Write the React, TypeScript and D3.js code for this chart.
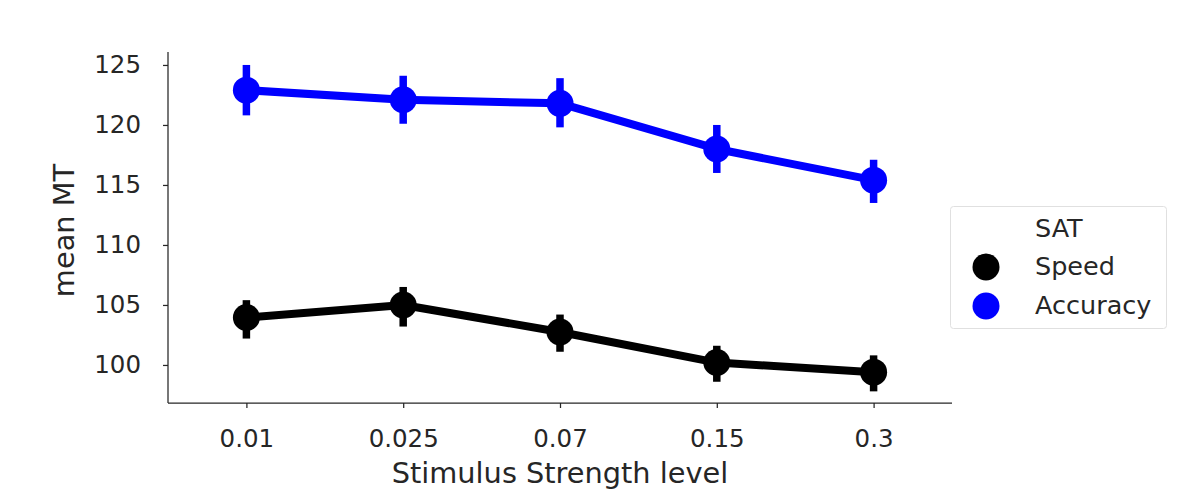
import * as d3 from "d3";
import { useEffect, useRef } from "react";

// stimulus strength levels (x categories)
const levels = ["0.01", "0.025", "0.07", "0.15", "0.3"];

// mean MT per level, with error bar bounds
const speedMean = [103.95, 105.0, 102.75, 100.2, 99.4];
const speedLow = [102.2, 103.2, 101.1, 98.6, 97.8];
const speedHigh = [105.4, 106.5, 104.2, 101.6, 100.8];

const accMean = [122.9, 122.1, 121.8, 118.0, 115.4];
const accLow = [120.8, 120.1, 119.8, 116.0, 113.5];
const accHigh = [125.0, 124.1, 123.9, 120.0, 117.1];

const yTicks = [100, 105, 110, 115, 120, 125];

const series = [
  { name: "Speed", color: "#000000", mean: speedMean, low: speedLow, high: speedHigh },
  { name: "Accuracy", color: "#0000ff", mean: accMean, low: accLow, high: accHigh },
];

export default function App() {
  const ref = useRef<SVGSVGElement>(null);

  useEffect(() => {
    const svg = d3.select(ref.current);
    svg.selectAll("*").remove();

    const left = 168, right = 952, top = 52, bottom = 403;
    const font = "DejaVu Sans, sans-serif";
    const textColor = "#262626";

    const x = d3.scalePoint<string>().domain(levels).range([left, right]).padding(0.5);
    const y = d3.scaleLinear().domain([96.83, 126.08]).range([bottom, top]);

    // axes
    const yAxis = svg.append("g")
      .attr("transform", `translate(${left},0)`)
      .call(d3.axisLeft(y).tickValues(yTicks).tickSize(5).tickPadding(22).tickFormat(d3.format("d")));
    const xAxis = svg.append("g")
      .attr("transform", `translate(0,${bottom})`)
      .call(d3.axisBottom(x).tickSize(5).tickPadding(22));
    for (const g of [yAxis, xAxis]) {
      g.select(".domain").attr("stroke", textColor).attr("stroke-width", 1.25);
      g.selectAll(".tick line").attr("stroke", textColor).attr("stroke-width", 1.25);
      g.selectAll(".tick text").attr("fill", textColor).style("font-family", font).style("font-size", "24.5px");
    }
    // plain spines without end caps
    yAxis.select(".domain").attr("d", `M0,${bottom}V${top}`);
    xAxis.select(".domain").attr("d", `M${left},0H${right}`);

    // axis labels
    svg.append("text")
      .attr("x", (left + right) / 2).attr("y", 483)
      .attr("text-anchor", "middle")
      .attr("fill", textColor)
      .style("font-family", font).style("font-size", "28.8px")
      .text("Stimulus Strength level");
    svg.append("text")
      .attr("transform", `translate(74,${(top + bottom) / 2 + 3}) rotate(-90)`)
      .attr("text-anchor", "middle")
      .attr("fill", textColor)
      .style("font-family", font).style("font-size", "28.8px")
      .text("mean MT");

    const line = d3.line<number>()
      .x((_, i) => x(levels[i])!)
      .y(d => y(d));

    for (const s of series) {
      const g = svg.append("g");
      // error bars
      g.selectAll(".err")
        .data(levels)
        .enter()
        .append("line")
        .attr("x1", d => x(d)!)
        .attr("x2", d => x(d)!)
        .attr("y1", (_, i) => y(s.low[i]))
        .attr("y2", (_, i) => y(s.high[i]))
        .attr("stroke", s.color)
        .attr("stroke-width", 7.5);
      g.append("path")
        .datum(s.mean)
        .attr("d", line)
        .attr("fill", "none")
        .attr("stroke", s.color)
        .attr("stroke-width", 8)
        .attr("stroke-linejoin", "round");
      g.selectAll(".pt")
        .data(s.mean)
        .enter()
        .append("circle")
        .attr("cx", (_, i) => x(levels[i])!)
        .attr("cy", d => y(d))
        .attr("r", 13.5)
        .attr("fill", s.color);
    }

    // legend
    const lg = svg.append("g");
    lg.append("rect")
      .attr("x", 950.5).attr("y", 206.5)
      .attr("width", 216).attr("height", 122)
      .attr("rx", 3)
      .attr("fill", "white")
      .attr("stroke", "#e0e0e0");
    lg.append("text")
      .attr("x", 1035).attr("y", 237)
      .attr("fill", textColor)
      .style("font-family", font).style("font-size", "25.5px")
      .text("SAT");
    series.forEach((s, i) => {
      const cy = 267 + i * 39;
      lg.append("circle").attr("cx", 986).attr("cy", cy).attr("r", 13.5).attr("fill", s.color);
      lg.append("text")
        .attr("x", 1035).attr("y", cy + 8)
        .attr("fill", textColor)
        .style("font-family", font).style("font-size", "25.5px")
        .text(s.name);
    });
  }, []);

  return (
    <svg ref={ref} width={1189} height={494}
      style={{ position: "absolute", left: 0, top: 0, background: "white" }} />
  );
}
